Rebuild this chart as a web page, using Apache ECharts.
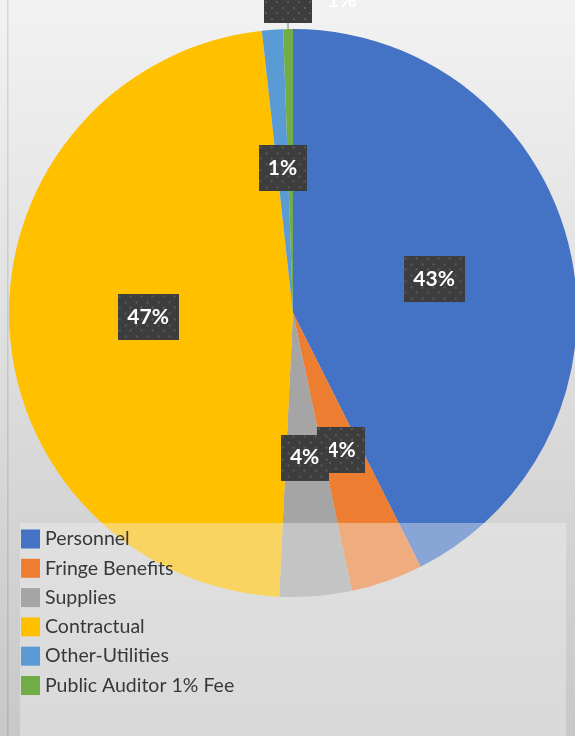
<!DOCTYPE html>
<html>
<head>
<meta charset="utf-8">
<script src="https://cdn.jsdelivr.net/npm/echarts@6/dist/echarts.min.js"></script>
<style>
  html, body { margin: 0; padding: 0; }
  #chart { width: 575px; height: 736px; }
</style>
</head>
<body>
<div id="chart"></div>
<script>
// budget categories, clockwise from 12 o'clock
const categories = ['Personnel', 'Fringe Benefits', 'Supplies', 'Contractual', 'Other-Utilities', 'Public Auditor 1% Fee']
const shares = [42.6, 4.1, 4.1, 47.5, 1.2, 0.55]
const colors = ['#4472C4', '#ED7D31', '#A5A5A5', '#FFC000', '#5B9BD5', '#70AD47']

// dark dotted box behind the data labels
const dotBox = (w, h) => {
  const c = document.createElement('canvas')
  c.width = w
  c.height = h
  const g = c.getContext('2d')
  g.fillStyle = '#3d3d3d'
  g.fillRect(0, 0, w, h)
  g.fillStyle = '#5a5a5a'
  let row = 0
  for (let y = 1; y < h; y += 5.7, row++) {
    for (let x = row % 2 ? 6.5 : 1; x < w; x += 11) {
      g.fillRect(Math.round(x), Math.round(y), 2, 2)
    }
  }
  return c
}
const wideBox = dotBox(61, 46)
const narrowBox = dotBox(48, 46)

const chart = echarts.init(document.getElementById('chart'))

const labelFont = { color: '#fff', fontFamily: 'Lato', fontWeight: 'bold', fontSize: 21 }

const labelStyle = pct => ({
  ...labelFont,
  width: pct >= 10 ? 61 : 48,
  height: 46,
  lineHeight: 46,
  align: 'center',
  backgroundColor: { image: pct >= 10 ? wideBox : narrowBox }
})

const pieData = categories.map((name, i) => {
  const item = {
    name,
    value: shares[i],
    itemStyle: { color: colors[i] },
    label: labelStyle(shares[i])
  }
  if (i === categories.length - 1) {
    // tiny slice: label sits outside, above the pie
    item.label = {
      position: 'outside',
      formatter: '{box|}{txt|{d}%}',
      rich: {
        box: { width: 48, height: 46, backgroundColor: { image: narrowBox } },
        txt: { ...labelFont, padding: [0, 0, 0, 15] }
      }
    }
    item.labelLine = { show: true, length: 6, length2: 0, lineStyle: { color: '#a6a6a6', width: 1.5 } }
  }
  return item
})

const option = {
  animation: false,
  backgroundColor: {
    type: 'linear',
    x: 0, y: 0, x2: 0, y2: 1,
    colorStops: [
      { offset: 0, color: '#f2f2f2' },
      { offset: 1, color: '#c8c8c8' }
    ]
  },
  legend: {
    orient: 'vertical',
    left: 21,
    top: 529,
    padding: 0,
    z: 20,
    itemWidth: 19,
    itemHeight: 19,
    itemGap: 9.3,
    icon: 'rect',
    selectedMode: false,
    textStyle: { color: '#383838', fontFamily: 'Lato', fontSize: 19.5, lineHeight: 19 },
    data: categories
  },
  graphic: [
    { type: 'rect', z: 10, shape: { x: 20, y: 523, width: 546, height: 213 }, style: { fill: 'rgba(242,242,242,0.4)' } },
    { type: 'rect', z: 10, shape: { x: 7, y: 0, width: 1.5, height: 736 }, style: { fill: 'rgba(0,0,0,0.1)' } }
  ],
  series: [
    {
      type: 'pie',
      center: [293, 313],
      radius: 284,
      startAngle: 90,
      clockwise: true,
      percentPrecision: 0,
      avoidLabelOverlap: false,
      emphasis: { disabled: true },
      label: {
        show: true,
        position: 'inside',
        formatter: '{d}%'
      },
      labelLine: { show: false },
      labelLayout: p => {
        if (p.dataIndex !== categories.length - 1) return {}
        const [a, b] = p.labelLinePoints
        return {
          x: b[0] - 24, y: b[1], align: 'left', verticalAlign: 'bottom',
          labelLinePoints: [a, b, b]
        }
      },
      data: pieData
    }
  ]
}

chart.setOption(option)
</script>
</body>
</html>
